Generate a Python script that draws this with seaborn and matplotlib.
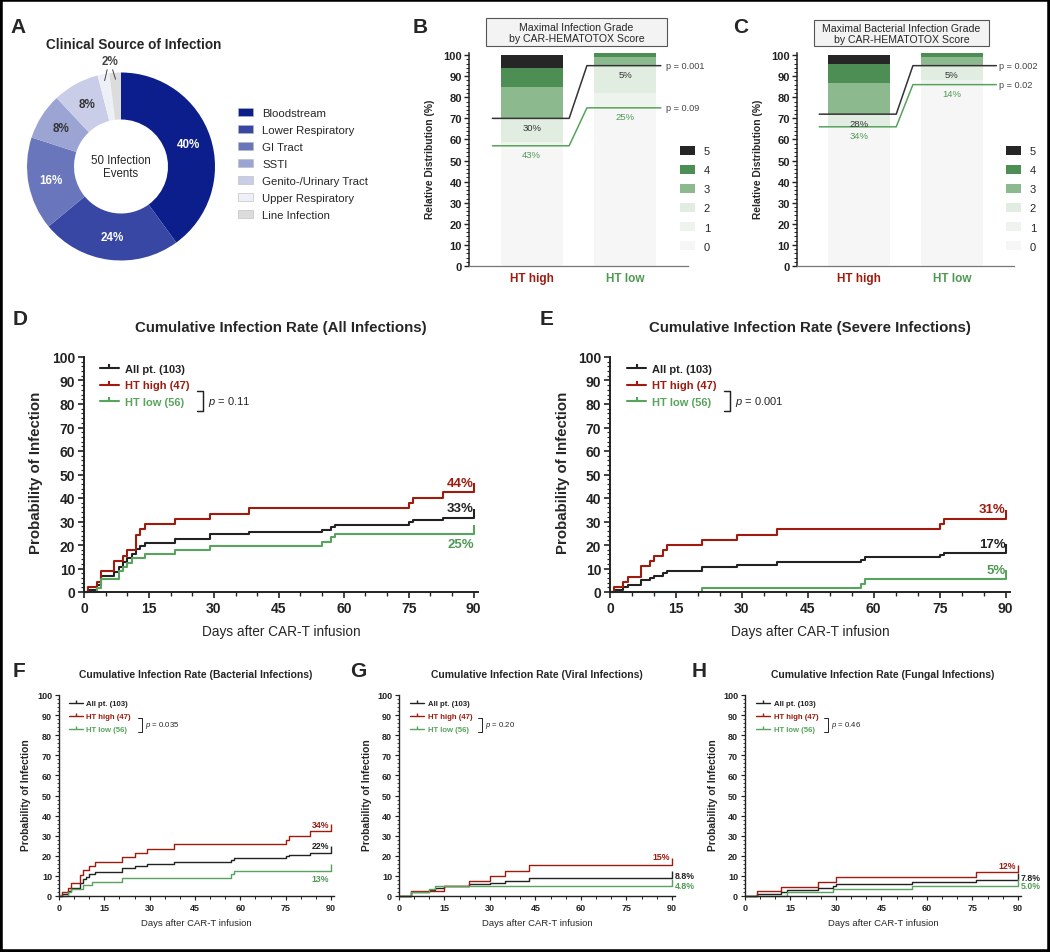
import matplotlib
matplotlib.use("Agg")
import numpy as np
import matplotlib.pyplot as plt
import seaborn as sns
from matplotlib.lines import Line2D
from matplotlib.patches import Patch, Rectangle
from matplotlib.ticker import MultipleLocator

sns.set_theme(style="ticks")
plt.rcParams["font.family"] = ["Liberation Sans", "DejaVu Sans"]
plt.rcParams["mathtext.fontset"] = "custom"
plt.rcParams["mathtext.it"] = "Liberation Sans:italic"
plt.rcParams["mathtext.rm"] = "Liberation Sans"
plt.rcParams["axes.edgecolor"] = "#222222"
plt.rcParams["xtick.color"] = "#222222"
plt.rcParams["ytick.color"] = "#222222"

# ---------------- data ----------------
# A: clinical source of infection (50 events)
source_labels = ["Bloodstream", "Lower Respiratory", "GI Tract", "SSTI",
                 "Genito-/Urinary Tract", "Upper Respiratory", "Line Infection"]
source_pct = [40, 24, 16, 8, 8, 2, 2]
source_colors = ["#0b1e8c", "#3747a3", "#6a76bc", "#9ca4d3", "#c9cde8", "#eef0f7", "#dcdcdc"]

# B / C: maximal infection grade, % of patients per grade (0..5), HT high / HT low
grade_labels = ["0", "1", "2", "3", "4", "5"]
grade_colors = ["#f6f6f6", "#eef3ee", "#e2ede2", "#8cb98d", "#4c8e53", "#262626"]
b_high = [57, 2, 11, 15, 9, 6]
b_low = [75, 7, 13, 4, 2, 0]
b_severe = [30, 5]
b_any = [43, 25]
b_pvals = ["p = 0.001", "p = 0.09"]
c_high = [66, 0, 6, 15, 9, 4]
c_low = [86, 2, 7, 4, 2, 0]
c_severe = [28, 5]
c_any = [34, 14]
c_pvals = ["p = 0.002", "p = 0.02"]

# D: all infections
d_all_days = [0, 1, 3, 4, 7, 8, 9, 10, 11, 12, 13, 14, 21, 29, 38, 55, 57, 58, 75, 76, 83, 90]
d_all_pct = [0, 1.0, 2.9, 6.8, 8.7, 10.7, 12.6, 14.6, 16.0, 18.4, 19.4, 20.8, 22.6, 24.5,
             25.5, 26.5, 27.6, 28.6, 29.6, 30.7, 31.7, 31.7]
d_high_days = [0, 1, 3, 4, 7, 9, 10, 12, 13, 14, 21, 29, 38, 75, 76, 83, 90]
d_high_pct = [0, 2.1, 4.3, 8.8, 13.0, 15.5, 17.8, 24.2, 26.6, 28.8, 31.0, 33.4, 35.6,
              37.8, 40.0, 42.4, 42.4]
d_low_days = [0, 3, 4, 8, 9, 10, 11, 14, 21, 29, 55, 57, 58, 90]
d_low_pct = [0, 1.8, 5.4, 8.9, 10.7, 12.5, 14.3, 16.1, 17.9, 19.6, 21.4, 23.2, 24.8, 24.8]

# E: severe infections
e_all_days = [0, 1, 3, 4, 7, 9, 10, 12, 13, 21, 29, 38, 57, 58, 75, 76, 90]
e_all_pct = [0, 1.0, 2.0, 3.0, 5.0, 6.0, 7.0, 8.0, 8.8, 10.8, 11.7, 12.8, 13.7, 14.8,
             15.8, 16.8, 16.8]
e_high_days = [0, 1, 3, 4, 7, 9, 10, 12, 13, 21, 29, 38, 75, 76, 90]
e_high_pct = [0, 2.1, 4.3, 6.5, 11.0, 13.2, 15.5, 17.7, 19.9, 22.1, 24.3, 26.6, 28.9, 31.2, 31.2]
e_low_days = [0, 21, 57, 58, 90]
e_low_pct = [0, 1.8, 3.6, 5.4, 5.4]

# F: bacterial infections
f_all_days = [0, 1, 3, 4, 7, 8, 9, 10, 12, 21, 25, 29, 38, 57, 58, 75, 76, 83, 90]
f_all_pct = [0, 1.0, 2.3, 4.0, 6.3, 8.6, 9.7, 10.8, 12.0, 13.8, 14.8, 15.9, 17.0, 18.0,
             18.9, 19.7, 20.5, 21.4, 21.4]
f_high_days = [0, 1, 3, 4, 7, 8, 10, 12, 21, 25, 29, 38, 75, 76, 83, 90]
f_high_pct = [0, 2.1, 4.2, 6.4, 10.5, 12.8, 14.9, 17.1, 19.4, 21.5, 23.6, 25.8, 27.9,
              30.0, 32.1, 32.1]
f_low_days = [0, 3, 4, 8, 11, 21, 57, 58, 90]
f_low_pct = [0, 1.8, 3.6, 5.4, 7.2, 9.0, 10.8, 12.6, 12.6]

# G: viral infections
g_all_days = [0, 4, 10, 12, 15, 23, 30, 35, 43, 90]
g_all_pct = [0, 1.9, 3.0, 3.9, 4.8, 5.8, 6.6, 7.7, 8.8, 8.8]
g_high_days = [0, 4, 15, 23, 30, 35, 43, 90]
g_high_pct = [0, 2.6, 5.2, 7.6, 10.0, 12.6, 15.2, 15.2]
g_low_days = [0, 4, 10, 12, 90]
g_low_pct = [0, 1.8, 3.6, 4.8, 4.8]

# H: fungal infections
h_all_days = [0, 4, 12, 14, 24, 29, 30, 55, 76, 90]
h_all_pct = [0, 1.0, 2.0, 3.0, 4.0, 4.9, 5.9, 6.8, 7.8, 7.8]
h_high_days = [0, 4, 12, 24, 30, 76, 90]
h_high_pct = [0, 2.4, 4.6, 7.0, 9.3, 11.7, 11.7]
h_low_days = [0, 14, 29, 55, 90]
h_low_pct = [0, 1.8, 3.3, 5.0, 5.0]

group_labels = ["All pt. (103)", "HT high (47)", "HT low (56)"]

# ---------------- layout helpers ----------------
W, H = 1050, 953
fig = plt.figure(figsize=(W / 100, H / 100), dpi=100)

BLACK = "#222222"
RED = "#9e1b0e"
GREEN = "#58a35d"
TGREEN = "#4e9a53"
TICK_UP = [(0, 0), (0, 1)]


def box(l, t, r, b):
    return fig.add_axes([l / W, 1 - b / H, (r - l) / W, (b - t) / H])


def ftext(x, y, s, **kw):
    return fig.text(x / W, 1 - y / H, s, **kw)


# panel letters
for letter, (lx, ly) in {"A": (10, 33), "B": (413, 33), "C": (733, 33), "D": (13, 325),
                         "E": (540, 325), "F": (13, 677), "G": (350, 677), "H": (692, 677)}.items():
    ftext(lx, ly, letter, fontsize=15, fontweight="bold", va="baseline", ha="left")

# ---------------- A: donut ----------------
ax = box(27, 73, 215, 262)
wedges, _ = ax.pie(source_pct, colors=source_colors, startangle=90, counterclock=False,
                   radius=1, wedgeprops=dict(width=0.5, linewidth=0))
ax.set_xlim(-1, 1)
ax.set_ylim(-1, 1)
ax.set_aspect("equal")
pct_colors = ["white", "white", "white", "#333333", "#333333"]
for w, p, c in zip(wedges[:5], source_pct[:5], pct_colors):
    ang = np.deg2rad((w.theta1 + w.theta2) / 2)
    ax.text(0.76 * np.cos(ang), 0.76 * np.sin(ang), f"{p}%", ha="center", va="center",
            color=c, fontsize=8.4, fontweight="bold")
ax.text(-0.12, 1.12, f"{source_pct[5]}%", ha="center", va="center", fontsize=8.4,
        fontweight="bold", color="#444444")
for w in wedges[5:]:
    ang = np.deg2rad((w.theta1 + w.theta2) / 2)
    sx, sy = 0.93 * np.cos(ang), 0.93 * np.sin(ang)
    ax.plot([sx, sx + (-0.12 - sx) * 0.5], [sy, 1.03], color="#444444", lw=0.7, clip_on=False)
ax.text(0, 0, "50 Infection\nEvents", ha="center", va="center", fontsize=8.3, linespacing=1.15)
ftext(134, 45, "Clinical Source of Infection", ha="center", va="center",
      fontsize=9.8, fontweight="bold")
fig.legend(handles=[Patch(facecolor=c, edgecolor="#b8b8b8", linewidth=0.4) for c in source_colors],
           labels=source_labels, loc="upper left", bbox_to_anchor=(238 / W, 1 - 109 / H),
           bbox_transform=fig.transFigure, frameon=False, fontsize=8.2, handlelength=1.3,
           handleheight=0.7, handletextpad=0.85, labelspacing=0.62, borderpad=0, borderaxespad=0)


# ---------------- B / C: stacked grade bars ----------------
def grade_panel(ax, high, low, severe, anyinf, pvals, line_x, p_x):
    x = np.array([0, 1])
    bottoms = np.zeros(2)
    for g, col in enumerate(grade_colors):
        h = np.array([high[g], low[g]], dtype=float)
        ax.bar(x, h, bottom=bottoms, width=0.665, color=col, linewidth=0)
        bottoms += h
    for vals, col, tcol in [(severe, "#333333", "#333333"), (anyinf, GREEN, TGREEN)]:
        ys = [100 - vals[0], 100 - vals[0], 100 - vals[1], 100 - vals[1]]
        ax.plot(line_x, ys, color=col, lw=1.1, clip_on=False)
        for xi, v in zip(x, vals):
            ax.text(xi, 100 - v - 4.3, f"{v}%", ha="center", va="center", fontsize=6.8, color=tcol)
    ax.text(p_x, 100 - severe[1], pvals[0], ha="left", va="center", fontsize=6.6, color="#444444")
    ax.text(p_x, 100 - anyinf[1], pvals[1], ha="left", va="center", fontsize=6.6, color="#444444")
    ax.set_xlim(-0.67, 1.67)
    ax.set_ylim(0, 101)
    ax.yaxis.set_major_locator(MultipleLocator(10))
    ax.yaxis.set_minor_locator(MultipleLocator(2))
    ax.set_xticks([0, 1], ["HT high", "HT low"])
    for lab, c in zip(ax.get_xticklabels(), [RED, TGREEN]):
        lab.set_color(c)
        lab.set_fontweight("bold")
        lab.set_fontsize(8.5)
    ax.tick_params(axis="x", length=0, pad=4)
    ax.tick_params(axis="y", which="major", length=3.5, width=1, labelsize=8, pad=1.5)
    ax.tick_params(axis="y", which="minor", length=2, width=0.7)
    plt.setp(ax.get_yticklabels(), fontweight="bold")
    sns.despine(ax=ax)
    ax.spines["left"].set_linewidth(1.1)
    ax.spines["bottom"].set_color("#777777")
    ax.spines["bottom"].set_linewidth(0.9)
    handles = [Patch(facecolor=c, linewidth=0) for c in grade_colors]
    ax.legend(handles[::-1], grade_labels[::-1], loc="upper left", bbox_to_anchor=(0.965, 0.565),
              frameon=False, fontsize=8, handlelength=1.35, handleheight=0.9, handletextpad=0.75,
              labelspacing=0.78, borderpad=0, borderaxespad=0)


axb = box(469, 54, 688, 267)
grade_panel(axb, b_high, b_low, b_severe, b_any, b_pvals, [-0.42, 0.40, 0.59, 1.38], 1.44)
axc = box(797, 54, 1014, 267)
grade_panel(axc, c_high, c_low, c_severe, c_any, c_pvals, [-0.43, 0.40, 0.58, 1.48], 1.51)

for (l, t, r, b), title in [((486, 19, 667, 47), "Maximal Infection Grade\nby CAR-HEMATOTOX Score"),
                            ((814, 21, 989, 47), "Maximal Bacterial Infection Grade\nby CAR-HEMATOTOX Score")]:
    fig.patches.append(Rectangle((l / W, 1 - b / H), (r - l) / W, (b - t) / H, transform=fig.transFigure,
                                 facecolor="#f3f3f3", edgecolor="#555555", linewidth=0.8))
    ftext((l + r) / 2, (t + b) / 2 + 0.5, title, ha="center", va="center", fontsize=7.6, linespacing=1.1)
ftext(430, 159, "Relative Distribution (%)", rotation=90, ha="center", va="center",
      fontsize=7.4, fontweight="bold")
ftext(758, 159, "Relative Distribution (%)", rotation=90, ha="center", va="center",
      fontsize=7.4, fontweight="bold")


# ---------------- D-H: cumulative infection curves ----------------
def km_panel(ax, curves, pval, ends, big, leg_anchor, bracket):
    if big:
        lw, tick_fs, leg_fs, p_fs, end_fs, ms_end, ms_leg = 1.5, 10, 8, 8, 9.5, 13, 6
        maj, ymin_len, xmin_len, spw, lspace, hlen = 4.3, 2.2, 2.9, 1.4, 0.62, 1.75
    else:
        lw, tick_fs, leg_fs, p_fs, end_fs, ms_end, ms_leg = 1.0, 6.5, 5.6, 5.6, 6.3, 10, 4.5
        maj, ymin_len, xmin_len, spw, lspace, hlen = 3, 1.5, 2, 1.0, 0.7, 1.75
    colors = [BLACK, RED, GREEN]
    for (days, pct), col in zip(curves, colors):
        sns.lineplot(x=days, y=pct, drawstyle="steps-post", color=col, linewidth=lw, ax=ax,
                     estimator=None, sort=False, clip_on=False)
        ax.plot(days[-1], pct[-1], marker=TICK_UP, ms=ms_end, mew=lw, color=col, clip_on=False)
    for (txt, y, ha, dx), col in zip(ends, [BLACK, RED, TGREEN]):
        ax.text(90 + dx, y, txt, ha=ha, va="center", fontsize=end_fs, fontweight="bold", color=col)
    ax.set_xlim(0, 91)
    ax.set_ylim(0, 100)
    ax.xaxis.set_major_locator(MultipleLocator(15))
    ax.xaxis.set_minor_locator(MultipleLocator(5))
    ax.yaxis.set_major_locator(MultipleLocator(10))
    ax.yaxis.set_minor_locator(MultipleLocator(2))
    ax.tick_params(which="major", length=maj, width=spw * 0.85, labelsize=tick_fs, pad=2)
    ax.tick_params(axis="y", which="minor", length=ymin_len, width=spw * 0.6)
    ax.tick_params(axis="x", which="minor", length=xmin_len, width=spw * 0.7)
    plt.setp(ax.get_xticklabels() + ax.get_yticklabels(), fontweight="bold")
    ax.set_xlabel("")
    ax.set_ylabel("")
    sns.despine(ax=ax)
    for s in ["left", "bottom"]:
        ax.spines[s].set_linewidth(spw)
    handles = [Line2D([], [], color=c, lw=lw, marker=TICK_UP, ms=ms_leg, mew=lw) for c in colors]
    ax.legend(handles, group_labels, loc="upper left", bbox_to_anchor=leg_anchor, frameon=False,
              prop={"weight": "bold", "size": leg_fs}, labelcolor=colors, handlelength=hlen,
              handletextpad=0.5, labelspacing=lspace, borderpad=0, borderaxespad=0, numpoints=1)
    bx0, bx1, yt, yb = bracket
    ax.plot([bx0, bx1, bx1, bx0], [yt, yt, yb, yb], transform=ax.transAxes, color=BLACK,
            lw=lw * 0.7, clip_on=False)
    ax.text(bx1 + 0.012, (yt + yb) / 2, pval, transform=ax.transAxes, ha="left", va="center",
            fontsize=p_fs)


panels = [
    ((84, 358, 478, 593), [(d_all_days, d_all_pct), (d_high_days, d_high_pct), (d_low_days, d_low_pct)],
     "$p$ = 0.11", [("33%", 35.7, "right", 0), ("44%", 46.4, "right", 0), ("25%", 20.4, "right", 0)],
     True, (0.04, 0.972), (0.287, 0.302, 0.857, 0.770),
     "Cumulative Infection Rate (All Infections)", (281, 328), (36, 473), (281, 632)),
    ((610, 358, 1010, 593), [(e_all_days, e_all_pct), (e_high_days, e_high_pct), (e_low_days, e_low_pct)],
     "$p$ = 0.001", [("17%", 20.3, "right", 0), ("31%", 35.3, "right", 0), ("5%", 9.3, "right", 0)],
     True, (0.042, 0.972), (0.286, 0.300, 0.857, 0.770),
     "Cumulative Infection Rate (Severe Infections)", (810, 328), (563, 473), (810, 632)),
    ((59, 696, 334, 897), [(f_all_days, f_all_pct), (f_high_days, f_high_pct), (f_low_days, f_low_pct)],
     "$p$ = 0.035", [("22%", 25.0, "right", -0.5), ("34%", 35.8, "right", -0.5), ("13%", 8.9, "right", -0.5)],
     False, (0.036, 0.975), (0.287, 0.30, 0.886, 0.816),
     "Cumulative Infection Rate (Bacterial Infections)", (196, 675), (26.5, 795), (196, 924)),
    ((399, 696, 675, 897), [(g_all_days, g_all_pct), (g_high_days, g_high_pct), (g_low_days, g_low_pct)],
     "$p$ = 0.20", [("8.8%", 10.0, "left", 1), ("15%", 19.9, "right", -0.5), ("4.8%", 5.0, "left", 1)],
     False, (0.04, 0.975), (0.287, 0.30, 0.886, 0.816),
     "Cumulative Infection Rate (Viral Infections)", (537, 675), (367, 795), (537, 924)),
    ((745, 696, 1021, 897), [(h_all_days, h_all_pct), (h_high_days, h_high_pct), (h_low_days, h_low_pct)],
     "$p$ = 0.46", [("7.8%", 9.2, "left", 1), ("12%", 15.0, "right", -0.5), ("5.0%", 5.0, "left", 1)],
     False, (0.04, 0.975), (0.287, 0.30, 0.886, 0.816),
     "Cumulative Infection Rate (Fungal Infections)", (883, 675), (712.5, 795), (883, 924)),
]

for (pos, curves, pval, ends, big, anchor, bracket, title, tpos, ypos, xpos) in panels:
    ax = box(*pos)
    km_panel(ax, curves, pval, ends, big, anchor, bracket)
    ftext(*tpos, title, ha="center", va="center", fontsize=10.8 if big else 7.5, fontweight="bold")
    ftext(*ypos, "Probability of Infection", rotation=90, ha="center", va="center",
          fontsize=10.8 if big else 7.4, fontweight="bold")
    ftext(*xpos, "Days after CAR-T infusion", ha="center", va="center", fontsize=9.8 if big else 6.8)

# outer frame
fig.patches.append(Rectangle((0, 0), 1, 1, transform=fig.transFigure, fill=False,
                             edgecolor="black", linewidth=4))

fig.savefig("out.png", dpi=100)
